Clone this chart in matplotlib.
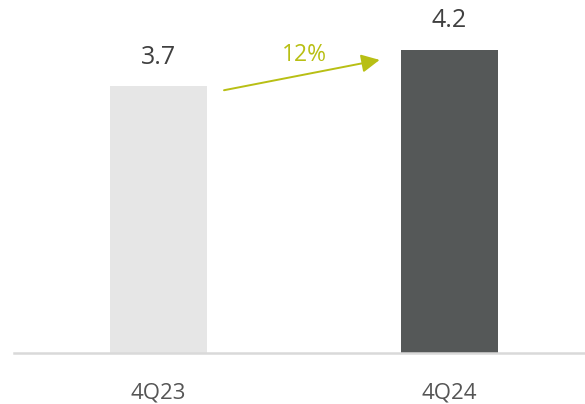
import matplotlib.pyplot as plt

categories = ['4Q23', '4Q24']
values = [3.7, 4.2]
growth_label = '12%'
bar_colors = ['#e6e6e6', '#555858']

plt.rcParams['font.family'] = ['Open Sans', 'DejaVu Sans']

fig = plt.figure(figsize=(5.85, 4.04), dpi=100)
ax = fig.add_axes([14 / 585, 51 / 404, 571 / 585, 353 / 404])

x = list(range(len(categories)))
width = 0.333
ax.bar(x, values, width=width, color=bar_colors)

# value labels above bars
for xi, v in zip(x, values):
    ax.text(xi, v + 0.40, f'{v:.1f}', ha='center', va='center',
            fontsize=18, color='#404040')

# growth arrow between the bars
green = '#b8bf14'
ax.annotate('', xy=(0.76, values[1] - 0.14), xytext=(0.225, values[0] - 0.06),
            arrowprops=dict(arrowstyle='-|>,head_length=1.1,head_width=0.55',
                            color=green, lw=1.4, shrinkA=0, shrinkB=0))
ax.text(0.5, 4.13, growth_label, ha='center', va='center', fontsize=16.5, color=green)

ax.set_xlim(-0.497, 1.466)
ax.set_ylim(0, 4.89)
ax.set_xticks(x)
ax.set_xticklabels(categories, fontsize=16, color='#555555')
ax.tick_params(axis='x', length=0, pad=21)
ax.set_yticks([])
for s in ['top', 'right', 'left']:
    ax.spines[s].set_visible(False)
ax.spines['bottom'].set_color('#d9d9d9')
ax.spines['bottom'].set_linewidth(1.8)

fig.savefig('out.png', dpi=100)
